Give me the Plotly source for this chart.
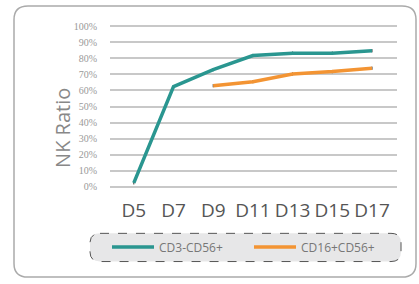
import plotly.graph_objects as go

days = ["D5", "D7", "D9", "D11", "D13", "D15", "D17"]
cd3_cd56 = [2.4, 62.4, 73.0, 81.8, 83.3, 83.3, 84.8]
cd16_cd56 = [None, None, 63.0, 65.5, 70.3, 71.8, 73.9]
err3 = [1, 1, 1, 1, 1, 1, 1]
err16 = [0, 0, 1, 1, 1, 1, 1]
y_ticks = list(range(0, 101, 10))
y_labels = [f"{v}%" for v in y_ticks]

W, H = 419, 284

def px(x):
    return x / W

def py(y):
    return 1 - y / H

def rrect(x0, y0, x1, y1, r):
    rx, ry = r / W, r / H
    X0, X1 = px(x0), px(x1)
    Y0, Y1 = py(y0), py(y1)  # Y0 top, Y1 bottom
    return (f"M {X0+rx},{Y0} L {X1-rx},{Y0} Q {X1},{Y0} {X1},{Y0-ry} "
            f"L {X1},{Y1+ry} Q {X1},{Y1} {X1-rx},{Y1} L {X0+rx},{Y1} "
            f"Q {X0},{Y1} {X0},{Y1+ry} L {X0},{Y0-ry} Q {X0},{Y0} {X0+rx},{Y0} Z")

fig = go.Figure()
fig.add_trace(go.Scatter(
    x=days, y=cd3_cd56, mode="lines", name="CD3-CD56+",
    line=dict(color="#2a9690", width=3.5),
    error_y=dict(type="data", array=err3, color="#333", thickness=1, width=0),
))
fig.add_trace(go.Scatter(
    x=days, y=cd16_cd56, mode="lines", name="CD16+CD56+",
    line=dict(color="#f39433", width=3.5),
    error_y=dict(type="data", array=err16, color="#333", thickness=1, width=0),
))

ppu = 1.65
fig.update_layout(
    width=W, height=H,
    margin=dict(l=0, r=0, t=0, b=0),
    paper_bgcolor="white", plot_bgcolor="white",
    showlegend=True,
    legend=dict(orientation="h", x=px(107), y=py(250), yanchor="middle", xanchor="left",
                bgcolor="rgba(0,0,0,0)", font=dict(family="Open Sans", size=12, color="#777"),
                itemwidth=42, entrywidth=85, entrywidthmode="pixels", itemclick=False),
    xaxis=dict(domain=[px(110), px(397)], range=[-0.6, 6.63], type="category",
               showgrid=False, zeroline=False, showline=False,
               ticks="outside", ticklen=5, tickcolor="rgba(0,0,0,0)",
               tickfont=dict(family="Open Sans", size=19, color="#555")),
    yaxis=dict(domain=[py(188 + ppu), py(23 - ppu)], range=[-1, 101],
               tickvals=y_ticks, ticktext=y_labels,
               showgrid=True, gridcolor="#c8c8c8", gridwidth=1.5, zeroline=False,
               showline=False, ticks="outside", ticklen=10, tickcolor="rgba(0,0,0,0)",
               tickfont=dict(family="Liberation Serif", size=10, color="#999")),
    shapes=[
        dict(type="path", xref="paper", yref="paper", path=rrect(14, 2, 416, 281, 14),
             line=dict(color="#aaa", width=1.5), fillcolor="rgba(0,0,0,0)", layer="below"),
        dict(type="path", xref="paper", yref="paper", path=rrect(90, 236, 401, 265, 10),
             line=dict(color="#555", width=1, dash="dash"), fillcolor="#e7e7e8", layer="below"),
    ],
    annotations=[
        dict(text="NK Ratio", x=px(47), y=py(128), xref="paper", yref="paper",
             textangle=-90, showarrow=False,
             font=dict(family="Open Sans", size=20, color="#888")),
    ],
)

fig.write_html("out.html", config={"displayModeBar": False},
               post_script="document.body.style.margin='0';")
